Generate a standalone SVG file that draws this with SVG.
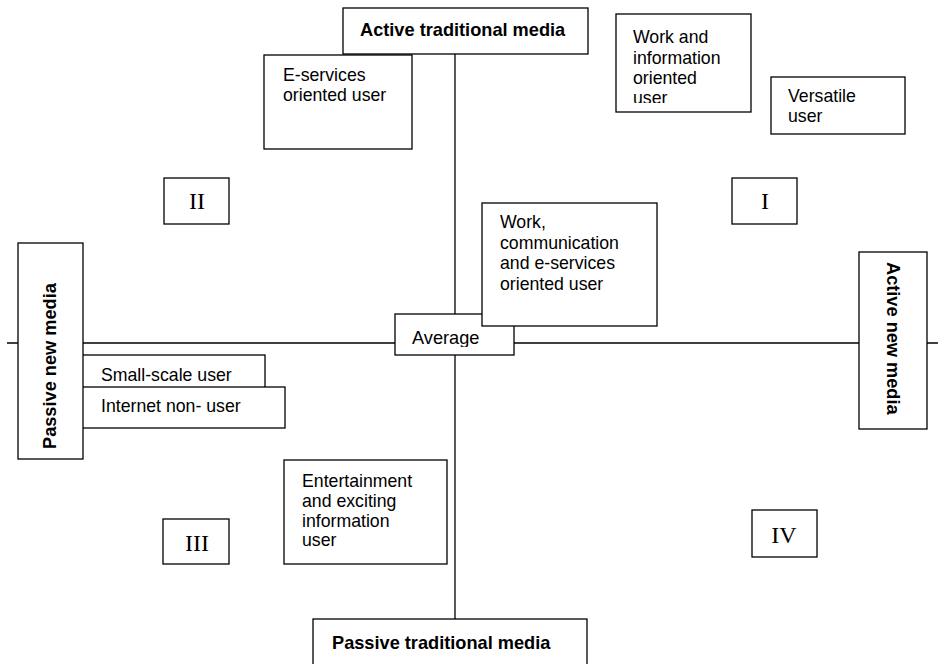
<svg xmlns="http://www.w3.org/2000/svg" width="938" height="664" viewBox="0 0 938 664">
<style>
.b{fill:#fff;stroke:#000;stroke-width:1.3}
.t{font-family:"Liberation Sans",Arial,sans-serif;font-size:17.7px;fill:#000}
.h{font-family:"Liberation Sans",Arial,sans-serif;font-size:18.2px;font-weight:bold;fill:#000}
.r{font-family:"Liberation Serif","Times New Roman",serif;font-size:24px;fill:#000;text-anchor:middle}
.ax{stroke:#000;stroke-width:1.3;fill:none}
</style>
<defs>
<clipPath id="cw"><rect x="616" y="14" width="135" height="89"/></clipPath>
<clipPath id="ca"><rect x="395" y="314" width="119" height="33"/></clipPath>
</defs>
<g id="connectors">
<line class="ax" x1="7" y1="343" x2="938" y2="343"/>
<line class="ax" x1="455" y1="54" x2="455" y2="619"/>
</g>
<g id="active-traditional">
<rect class="b" x="343" y="8" width="245" height="46"/>
<text class="h" x="360" y="36">Active traditional media</text>
</g>
<g id="passive-traditional">
<rect class="b" x="313" y="619" width="274" height="60"/>
<text class="h" x="332" y="649">Passive traditional media</text>
</g>
<g id="active-new">
<rect class="b" x="859" y="252" width="68" height="177"/>
<text class="h" transform="translate(887,262) rotate(90)">Active new media</text>
</g>
<g id="small-scale">
<rect class="b" x="70" y="355" width="195" height="40"/>
<text class="t" x="101" y="381">Small-scale user</text>
</g>
<g id="internet-non-user">
<rect class="b" x="70" y="387" width="215" height="41"/>
<text class="t" x="101" y="412">Internet non- user</text>
</g>
<g id="passive-new">
<rect class="b" x="18" y="243" width="65" height="216"/>
<text class="h" transform="translate(55.5,449) rotate(-90)">Passive new media</text>
</g>
<g id="e-services">
<rect class="b" x="264" y="55" width="148" height="94"/>
<text class="t" x="283" y="81">E-services</text>
<text class="t" x="283" y="101">oriented user</text>
</g>
<g id="work-information">
<rect class="b" x="616" y="14" width="135" height="98"/>
<g clip-path="url(#cw)">
<text class="t" x="633" y="43">Work and</text>
<text class="t" x="633" y="64">information</text>
<text class="t" x="633" y="84">oriented</text>
<text class="t" x="633" y="104">user</text>
</g>
</g>
<g id="versatile">
<rect class="b" x="771" y="77" width="134" height="57"/>
<text class="t" x="788" y="102">Versatile</text>
<text class="t" x="788" y="122">user</text>
</g>
<g id="average">
<rect class="b" x="395" y="314" width="119" height="41"/>
<text class="t" x="412" y="344" clip-path="url(#ca)" style="font-size:18.2px">Average</text>
</g>
<g id="work-communication">
<rect class="b" x="482" y="203" width="175" height="123"/>
<text class="t" x="500" y="228">Work,</text>
<text class="t" x="500" y="249">communication</text>
<text class="t" x="500" y="269">and e-services</text>
<text class="t" x="500" y="290">oriented user</text>
</g>
<g id="entertainment">
<rect class="b" x="284" y="460" width="163" height="104"/>
<text class="t" x="302" y="487">Entertainment</text>
<text class="t" x="302" y="507">and exciting</text>
<text class="t" x="302" y="527">information</text>
<text class="t" x="302" y="546">user</text>
</g>
<g id="q1">
<rect class="b" x="732" y="178" width="65" height="46"/>
<text class="r" x="765" y="209">I</text>
</g>
<g id="q2">
<rect class="b" x="164" y="178" width="65" height="46"/>
<text class="r" x="197" y="209">II</text>
</g>
<g id="q3">
<rect class="b" x="163" y="519" width="66" height="45"/>
<text class="r" x="197" y="551">III</text>
</g>
<g id="q4">
<rect class="b" x="752" y="510" width="65" height="47"/>
<text class="r" x="784" y="543">IV</text>
</g>
</svg>
